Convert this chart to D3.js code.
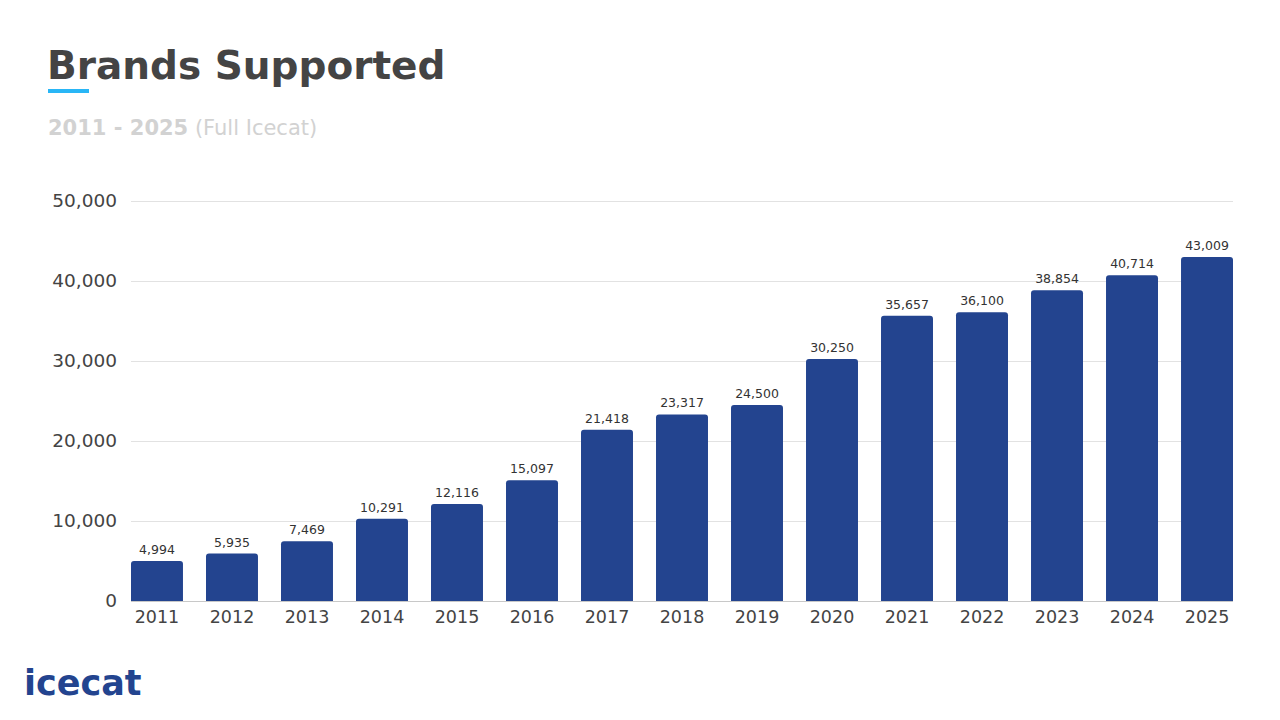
<!DOCTYPE html>
<html>
<head>
<meta charset="utf-8">
<script src="https://cdn.jsdelivr.net/npm/d3@7"></script>
<style>
  body { margin: 0; background: #fff; }
  svg { display: block; font-family: "DejaVu Sans", sans-serif; }
</style>
</head>
<body>
<div id="chart"></div>
<script>
// data
const years = ["2011","2012","2013","2014","2015","2016","2017","2018","2019","2020","2021","2022","2023","2024","2025"];
const brands = [4994, 5935, 7469, 10291, 12116, 15097, 21418, 23317, 24500, 30250, 35657, 36100, 38854, 40714, 43009];
const yTicks = [0, 10000, 20000, 30000, 40000, 50000];

const width = 1280, height = 720;
const barColor = "#23448f";

const svg = d3.select("div#chart")
    .append("svg")
    .attr("width", width)
    .attr("height", height);

// header
svg.append("text")
    .attr("x", 47).attr("y", 79)
    .attr("font-size", 39).attr("font-weight", "bold")
    .attr("fill", "#444")
    .text("Brands Supported");

svg.append("rect")
    .attr("x", 48).attr("y", 89)
    .attr("width", 41).attr("height", 4)
    .attr("fill", "#29b6f6");

const sub = svg.append("text")
    .attr("x", 48).attr("y", 135)
    .attr("font-size", 21)
    .attr("fill", "#d2d2d2");
sub.append("tspan").attr("font-weight", "bold").text("2011 - 2025");
sub.append("tspan").text(" (Full Icecat)");

// scales
const x = d3.scaleBand()
    .domain(years)
    .range([131, 1233])
    .paddingInner(0.307)
    .paddingOuter(0);

const y = d3.scaleLinear()
    .domain([0, 50000])
    .range([601, 201]);

// gridlines + y labels
const yAxis = svg.append("g")
    .attr("transform", "translate(131,0)")
    .call(d3.axisLeft(y).tickValues(yTicks).tickSize(-1102).tickFormat(d3.format(",")));
yAxis.select(".domain").remove();
yAxis.selectAll(".tick line").attr("stroke", d => d === 0 ? "#c8c8c8" : "#e2e2e2");
yAxis.selectAll(".tick text")
    .attr("x", -14)
    .attr("font-size", 18.5)
    .attr("font-family", "DejaVu Sans, sans-serif")
    .attr("fill", "#444");

// x labels
const xAxis = svg.append("g")
    .attr("transform", "translate(0,601)")
    .call(d3.axisBottom(x).tickSize(0));
xAxis.select(".domain").remove();
xAxis.selectAll(".tick text")
    .attr("y", 10)
    .attr("font-size", 17.5)
    .attr("font-family", "DejaVu Sans, sans-serif")
    .attr("fill", "#444");

// bars with rounded top corners
const r = 3;
function barPath(d, i) {
  const x0 = x(years[i]), w = x.bandwidth();
  const top = y(d), bottom = y(0);
  return `M${x0},${bottom} V${top + r} Q${x0},${top} ${x0 + r},${top} H${x0 + w - r} Q${x0 + w},${top} ${x0 + w},${top + r} V${bottom} Z`;
}

svg.selectAll("path.bar")
    .data(brands)
    .enter().append("path")
    .attr("class", "bar")
    .attr("d", barPath)
    .attr("fill", barColor);

svg.selectAll("text.bar-label")
    .data(brands)
    .enter().append("text")
    .attr("class", "bar-label")
    .attr("x", (d, i) => x(years[i]) + x.bandwidth() / 2)
    .attr("y", d => y(d) - 7)
    .attr("text-anchor", "middle")
    .attr("font-size", 12.5)
    .attr("fill", "#333")
    .text(d => d3.format(",")(d));

// logo
svg.append("text")
    .attr("x", 24).attr("y", 695)
    .attr("font-size", 35).attr("font-weight", "bold")
    .attr("fill", barColor)
    .text("icecat");
</script>
</body>
</html>
